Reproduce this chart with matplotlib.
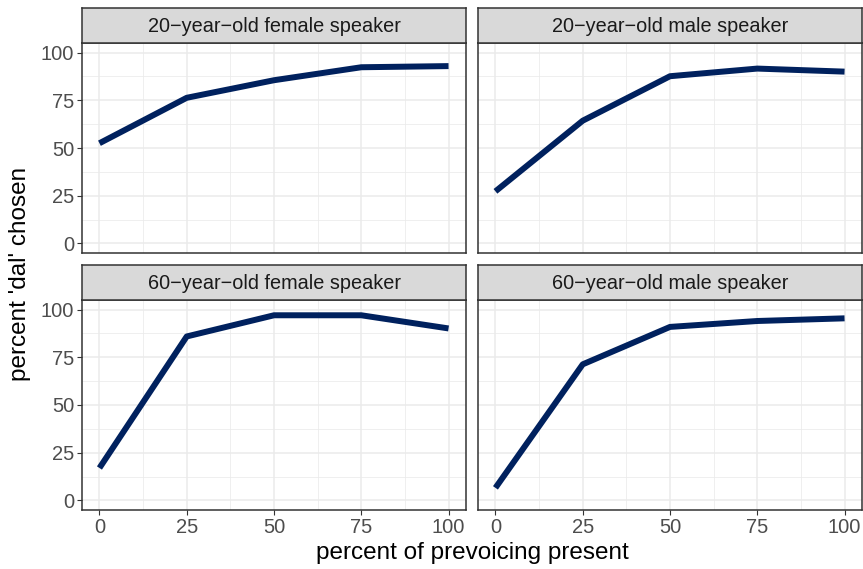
import numpy as np
import matplotlib
matplotlib.use('Agg')
from matplotlib import pyplot as plt

plt.rcParams['font.family'] = ['Liberation Sans', 'DejaVu Sans']

# 데이터
prevoicing = [0, 25, 50, 75, 100]
panel_titles = ['20\u2212year\u2212old female speaker', '20\u2212year\u2212old male speaker',
                '60\u2212year\u2212old female speaker', '60\u2212year\u2212old male speaker']
f20 = [52.5, 76.3, 85.5, 92.3, 92.9]
m20 = [27.3, 64.3, 87.6, 91.6, 90.0]
f60 = [17.0, 85.9, 97.0, 97.0, 90.1]
m60 = [6.6, 71.3, 90.9, 94.0, 95.4]
series = [f20, m20, f60, m60]
xticks = [0, 25, 50, 75, 100]
yticks = [0, 25, 50, 75, 100]

W, H = 863, 569
fig = plt.figure(figsize=(W / 100, H / 100), dpi=100)

line_col = '#00215E'
border = '#333333'
grid_col = '#EBEBEB'

# 패널 위치 (픽셀)
lefts = [82, 478]
pw = 384
tops = [43, 300]     # 패널 상단 (strip 아래)
ph = 210
sh = 35              # strip 높이

for i in range(4):
    r, c = divmod(i, 2)
    x0 = lefts[c]
    y_top = tops[r]
    ax = fig.add_axes([x0 / W, 1 - (y_top + ph) / H, pw / W, ph / H])
    ax.set_xlim(-5, 105)
    ax.set_ylim(-5, 105)
    ax.set_xticks(xticks)
    ax.set_yticks(yticks)
    ax.set_xticks([12.5, 37.5, 62.5, 87.5], minor=True)
    ax.set_yticks([12.5, 37.5, 62.5, 87.5], minor=True)
    ax.grid(which='major', color=grid_col, lw=1.1)
    ax.grid(which='minor', color=grid_col, lw=0.55)
    ax.set_axisbelow(True)
    for s in ax.spines.values():
        s.set_color(border)
        s.set_linewidth(1.1)
    ax.tick_params(which='major', length=3.5, width=0.8, color=border,
                   labelsize=14.5, labelcolor='#4D4D4D', pad=2)
    ax.tick_params(which='minor', length=0)
    if c == 1:
        ax.tick_params(axis='y', labelleft=False, left=False)
    if r == 0:
        ax.tick_params(axis='x', labelbottom=False, bottom=False)
    ax.plot(prevoicing, series[i], color=line_col, lw=4.3, solid_capstyle='butt')

    sax = fig.add_axes([x0 / W, 1 - y_top / H, pw / W, sh / H])
    sax.set_facecolor('#D9D9D9')
    sax.set_xticks([])
    sax.set_yticks([])
    for s in sax.spines.values():
        s.set_color(border)
        s.set_linewidth(1.1)
    sax.text(0.5, 0.47, panel_titles[i], ha='center', va='center',
             fontsize=14.3, color='#1A1A1A', transform=sax.transAxes)

fig.text((82 + 862) / 2 / W, 1 - 553 / H, 'percent of prevoicing present',
         ha='center', va='center', fontsize=17.5)
fig.text(20 / W, 1 - 274 / H, "percent 'dal' chosen", ha='center', va='center',
         rotation=90, fontsize=17.5)

fig.savefig('out.png', dpi=100)
